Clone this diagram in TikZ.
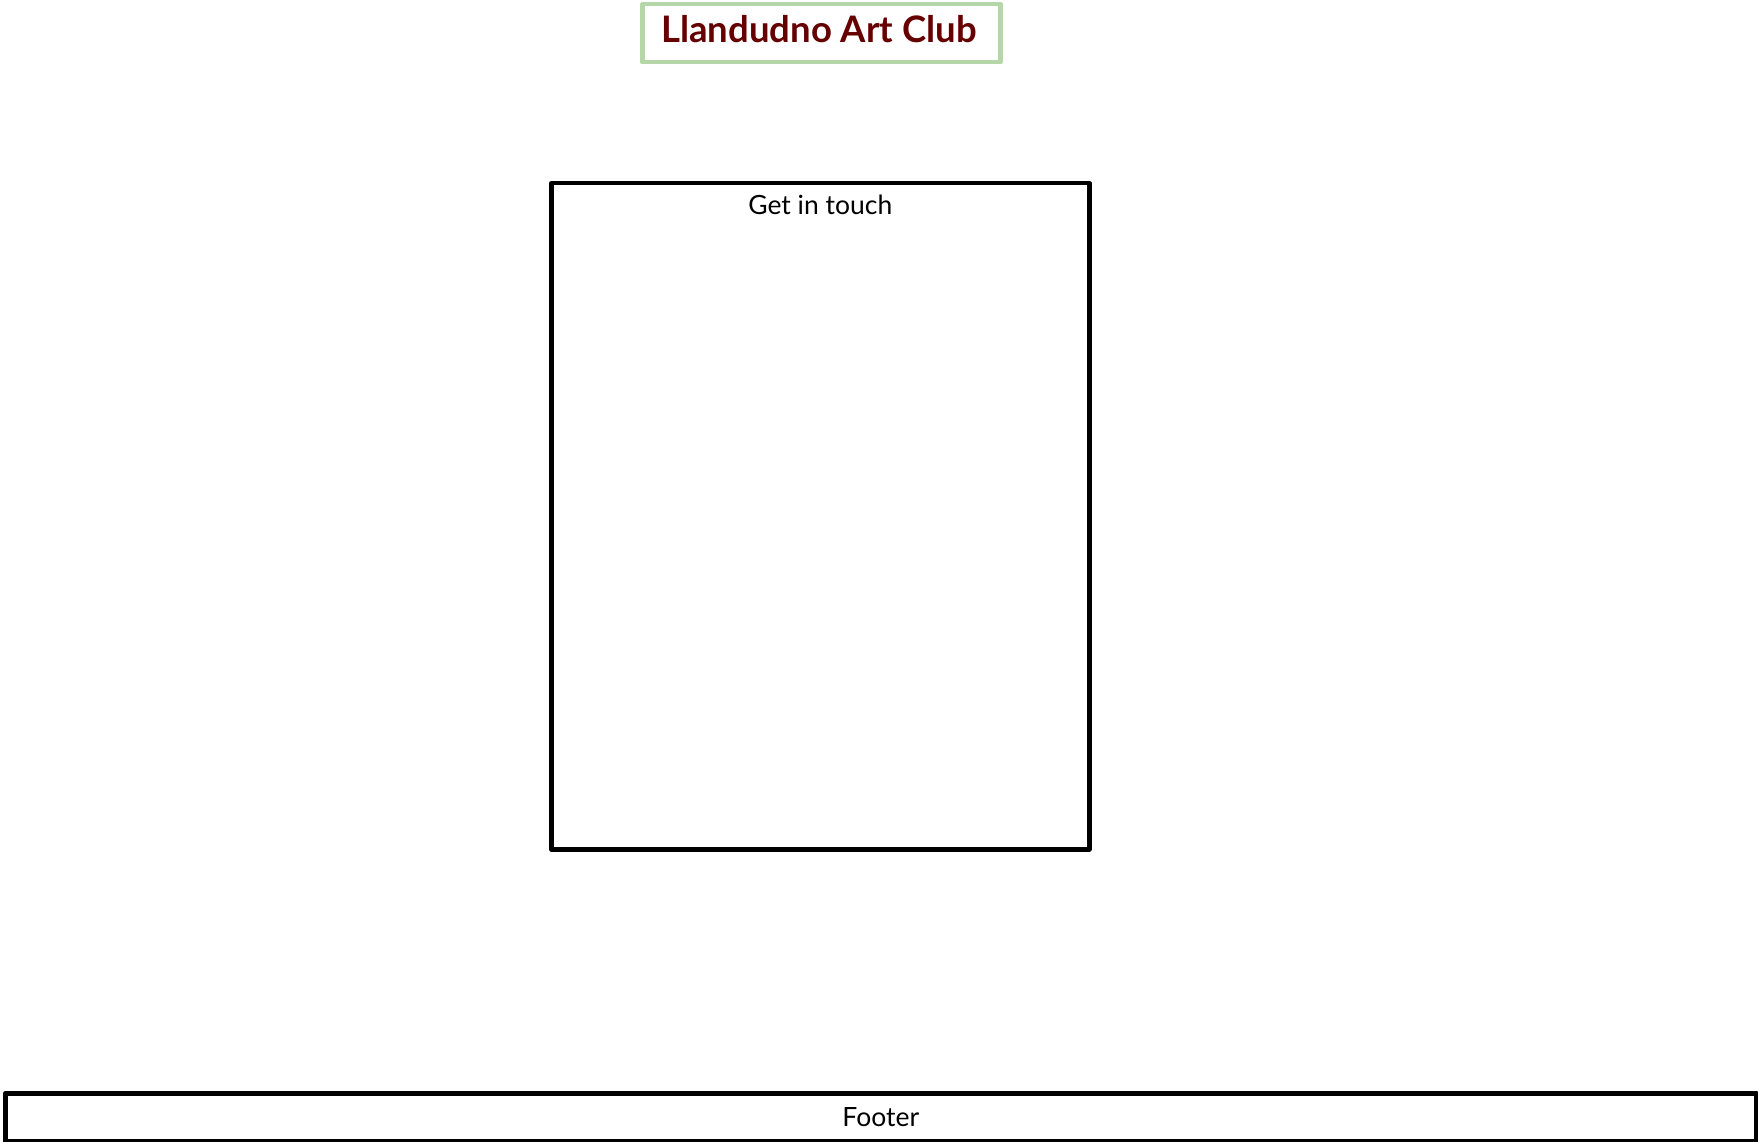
\documentclass[tikz,border=0pt]{standalone}
\usepackage{fontspec}
\setmainfont{Lato}
\definecolor{titlegreen}{HTML}{B5D6A7}
\definecolor{titlered}{HTML}{660000}
\begin{document}
\begin{tikzpicture}[x=1pt,y=-1pt,
  sketchbox/.style={draw=black,line width=4.5pt,line join=round},
  titlebox/.style={draw=titlegreen,line width=4.5pt,line join=round,fill=white}]
\useasboundingbox[fill=white] (0,0) rectangle (1758,1142);
\node[titlebox,minimum width=358pt,minimum height=58pt,anchor=north west] (title) at (640,2) {};
\node[text=titlered,font=\fontsize{36.5}{42}\selectfont\bfseries] (titletext) at (819,29) {Llandudno Art Club};
\node[sketchbox,minimum width=538pt,minimum height=666pt,anchor=north west] (contact) at (549,181) {};
\node[font=\fontsize{26.5}{30}\selectfont,anchor=north] (contacttext) at (contact.north) [yshift=-10pt] {Get in touch};
\node[sketchbox,minimum width=1751pt,minimum height=48pt,anchor=north west] (footer) at (3,1091) {};
\node[font=\fontsize{26.5}{30}\selectfont] (footertext) at (footer.center) {Footer};
\end{tikzpicture}
\end{document}
